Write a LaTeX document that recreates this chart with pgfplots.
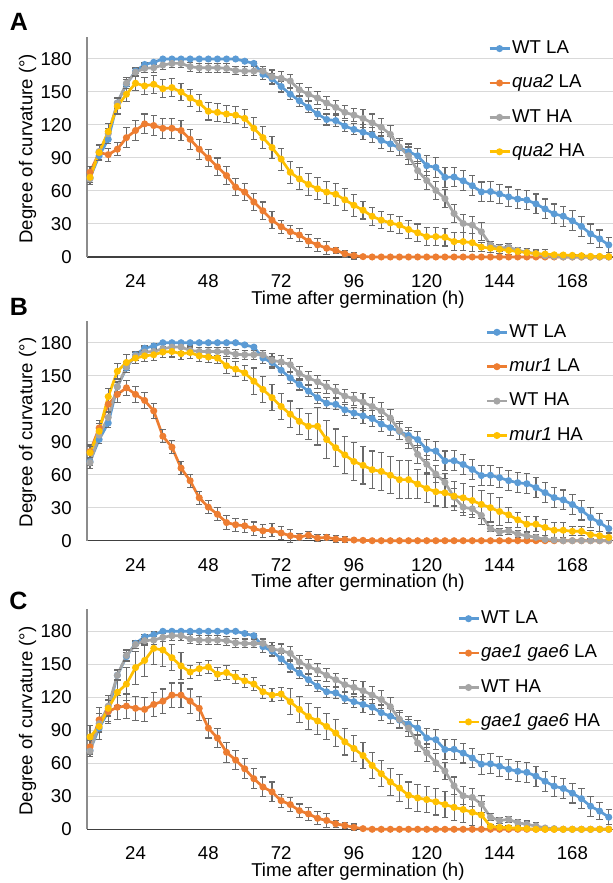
\documentclass[border=0pt]{standalone}
\usepackage{pgfplots}
\pgfplotsset{compat=1.18}
\usepackage{pgfplotstable}
\usepackage{fontspec}
\setmainfont{Liberation Sans}
\definecolor{blueS}{HTML}{5B9BD5}
\definecolor{orangeS}{HTML}{ED7D31}
\definecolor{grayS}{HTML}{A5A5A5}
\definecolor{yellowS}{HTML}{FFC000}
\definecolor{errgray}{HTML}{6A6A6A}
\definecolor{gridc}{HTML}{D9D9D9}

\pgfplotstableread{
t wla ewla wha ewha
9 72 4 71 5
12 92 4 96 5
15 107 4 112 5
18 140 4 140 5
21 157 4 158 5
24 169 2 168 4
27 175 2 171.5 4
30 177 2 172 4
33 180 0.5 174.5 4
36 180 0.5 176 4
39 180 0.5 176 4
42 180 0.5 173 4
45 180 0.5 172 4
48 180 0.5 172 4
51 180 0.5 172 4
54 180 0.5 171.5 4
57 180 0.5 169.5 4
60 178 1.5 169 4
63 176 1.5 169 4
66 166 5 169 4
69 162 5 164 6
72 155 5 162.5 6
75 148 5 160 6
78 142 5 152 6
81 136 5 148 6
84 130 5 144.5 6
87 125 5 140 6
90 124 5 136 6
93 119 5 131.5 6
96 116 5 129 6
99 113.5 7 126 8
102 111 7 122 8
105 106 7 118 8
108 102.8 7 111.5 8
111 99.3 7 100 8
114 95.7 7 92 8
117 92 7 78.5 8
120 83 9 69.5 8
123 81.5 9 60.5 8
126 72.5 9 53 8
129 72.7 9 39.5 8
132 69.3 9 30.5 8
135 64.8 9 29 8
138 59.2 9 23 8
141 59.5 9 11 3
144 57.3 9 8 3
147 54.6 9 9 3
150 52.7 9 6 3
153 51.8 9 4.5 3
156 48.3 9 3 3
159 43.7 9 1.2 1
162 39.2 9 0.6 1
165 37.1 9 0 0
168 32.9 9 0 0
171 27.8 9 0 0
174 21 9 0 0
177 16.5 8 0 0
180 11 7 0 0
}\wt

\pgfplotstableread{
t la ela ha eha
9 77 5 72.5 5
12 95 6 95 7
15 93 6 114 7
18 98 6 137 7
21 108.5 9 148 7
24 115 9 158 7
27 121 9 155.5 8
30 119.5 9 157 8
33 117 9 153 8
36 117 9 154 8
39 115 9 150 8
42 107 9 144.5 8
45 98 9 140 8
48 90 8 132.5 8
51 82 8 131.5 8
54 74 8 130 8
57 63.5 8 129 8
60 59 8 126 8
63 50 8 117 10
66 42 8 108.5 10
69 33.5 8 99.5 10
72 27.5 6 89 10
75 23 6 77 10
78 20 6 71 10
81 14.5 6 66 10
84 11 6 62 10
87 8 6 59 10
90 6 3 57 10
93 3 3 52 10
96 1.2 3 47 10
99 0.3 0 42.5 8
102 0 0 37 8
105 0 0 33.5 8
108 0 0 31 8
111 0 0 29 8
114 0 0 25 8
117 0 0 22 8
120 0 0 18.5 8
123 0 0 18.5 8
126 0 0 18 8
129 0 0 14 8
132 0 0 14 8
135 0 0 13 8
138 0 0 9 4
141 0 0 8 4
144 0 0 7 4
147 0 0 6 4
150 0 0 5 4
153 0 0 4 4
156 0 0 3 4
159 0 0 2.7 4
162 0 0 2 1
165 0 0 1.8 1
168 0 0 1.5 1
171 0 0 1.2 1
174 0 0 0.6 1
177 0 0 0.5 1
180 0 0 0.3 1
}\pa

\pgfplotstableread{
t la ela ha eha
9 81 6 80 6
12 102.5 7 99.5 7
15 124 7 131 7
18 133 7 154 7
21 139 7 162 7
24 133 7 166 5
27 127.5 7 168 5
30 118 7 169 5
33 95 6 171.5 5
36 85 6 172 5
39 66 6 170 5
42 54.5 6 171 5
45 39 6 168 5
48 30.5 6 167 5
51 24 6 166 5
54 16.5 6 159 7
57 14.5 6 156 7
60 13.5 6 152.5 7
63 11 6 145 12
66 9 6 137.5 12
69 9.5 6 130 12
72 7 6 122 12
75 4.5 6 115 12
78 3.3 3 108.5 12
81 5 3 104 12
84 2.4 3 104 17
87 3 3 92 17
90 1.5 3 84.5 17
93 1 3 78 17
96 0.6 0 72 17
99 0.3 0 68.5 17
102 0 0 64.5 17
105 0 0 63 17
108 0 0 59.5 17
111 0 0 55.5 17
114 0 0 55.5 17
117 0 0 51.5 13
120 0 0 47.5 13
123 0 0 44.5 13
126 0 0 43.5 13
129 0 0 40.5 13
132 0 0 39 13
135 0 0 36.5 13
138 0 0 33 13
141 0 0 30 13
144 0 0 26.5 13
147 0 0 23.5 7
150 0 0 19 7
153 0 0 15 7
156 0 0 15 7
159 0 0 12 7
162 0 0 9.5 7
165 0 0 9.5 7
168 0 0 8.5 4
171 0 0 8.5 4
174 0 0 5.5 4
177 0 0 4.5 4
180 0 0 3 4
}\pb

\pgfplotstableread{
t la ela ha eha
9 75 6 84 10
12 99.5 11 93.5 12
15 107 11 110 12
18 111 11 124.5 12
21 112 11 132 15
24 110 11 147 15
27 109 11 153.5 15
30 113.5 11 164.5 15
33 116.5 11 163 15
36 122 11 156 12
39 122 11 148.5 12
42 116.5 11 143 6
45 110 11 146 6
48 92 9 147.5 6
51 83 9 141 6
54 70 9 142.5 6
57 63 9 138.5 6
60 55 9 135 6
63 46 9 132 6
66 38.5 9 125 6
69 34 9 122 6
72 26 6 123 6
75 22.5 6 116 12
78 17 6 109 12
81 14 6 102.5 12
84 10 6 98.5 12
87 8 6 93.5 12
90 5 3 87.5 12
93 3.5 3 79.5 12
96 1.8 3 73.5 12
99 0.6 0 67 12
102 0 0 58 12
105 0 0 50.5 12
108 0 0 43 12
111 0 0 37.5 12
114 0 0 31 12
117 0 0 28.5 12
120 0 0 27 12
123 0 0 25 12
126 0 0 22.5 12
129 0 0 20 12
132 0 0 18 12
135 0 0 15.5 12
138 0 0 13 12
141 0 0 2.7 2
144 0 0 1.8 2
147 0 0 1.5 2
150 0 0 0.9 2
153 0 0 0.6 2
156 0 0 0 0
159 0 0 0 0
162 0 0 0 0
165 0 0 0 0
168 0 0 0 0
171 0 0 0 0
174 0 0 0 0
177 0 0 0 0
180 0 0 0 0
}\pc

\pgfplotsset{
  panel/.style={
    scale only axis, width=263pt, height=110pt, anchor=south west,
    xmin=8, xmax=181.4, ymin=0, ymax=200,
    xtick={24,48,72,96,120,144,168},
    ytick={0,30,60,90,120,150,180},
    major tick length=0pt,
    axis x line*=bottom, axis y line*=left,
    x axis line style={color=black!75, line width=0.6pt, -},
    y axis line style={color=black!45, line width=0.6pt, -},
    ymajorgrids, grid style={gridc, line width=0.5pt},
    clip=false,
    font=\fontsize{9.3}{11}\selectfont,
    /pgf/number format/assume math mode=true,
    xticklabel style={anchor=north, inner sep=0pt, yshift=-8.6pt},
    yticklabel style={anchor=east, inner sep=0pt, xshift=-7.5pt},
    xlabel={Time after germination (h)},
    ylabel={Degree of curvature (°)},
    xlabel style={at={(axis description cs:0.515,0)}, anchor=center, inner sep=0pt, yshift=-21.2pt},
    ylabel style={at={(axis description cs:-0.1131,0.492)}, anchor=center, inner sep=0pt},
    legend cell align=left,
    legend style={draw=none, fill=none, inner sep=0pt, anchor=north west, row sep=7.2pt, yshift=-0.6pt,
      nodes={inner sep=0.6pt, text height=6.8pt, text depth=2pt}},
    legend image code/.code={\draw[mark repeat=2,mark phase=2,#1] plot coordinates {(0pt,0pt) (5pt,0pt) (10pt,0pt)};},
  },
  ser/.style={color=#1, line width=1.35pt, mark=*, mark size=1.05pt, mark options={solid},
    error bars/.cd, y dir=both, y explicit, error mark=|,
    error bar style={line width=0.55pt, color=errgray},
    error mark options={line width=0.55pt, color=errgray, mark size=1.6pt}},
}

\begin{document}
\begin{tikzpicture}
\useasboundingbox (0,0) rectangle (306.5pt,441.5pt);

\begin{axis}[panel, at={(43.5pt,313pt)}, legend style={at={(0.762,1)}}]
\addplot[ser=blueS] table[x=t,y=wla,y error=ewla]{\wt};
\addplot[ser=orangeS] table[x=t,y=la,y error=ela]{\pa};
\addplot[ser=grayS] table[x=t,y=wha,y error=ewha]{\wt};
\addplot[ser=yellowS] table[x=t,y=ha,y error=eha]{\pa};
\legend{WT LA, \textit{qua2} LA, WT HA, \textit{qua2} HA}
\end{axis}

\begin{axis}[panel, at={(43.5pt,171.15pt)}, legend style={at={(0.757,1)}}]
\addplot[ser=blueS] table[x=t,y=wla,y error=ewla]{\wt};
\addplot[ser=orangeS] table[x=t,y=la,y error=ela]{\pb};
\addplot[ser=grayS] table[x=t,y=wha,y error=ewha]{\wt};
\addplot[ser=yellowS] table[x=t,y=ha,y error=eha]{\pb};
\legend{WT LA, \textit{mur1} LA, WT HA, \textit{mur1} HA}
\end{axis}

\begin{axis}[panel, at={(43.5pt,26.85pt)}, legend style={at={(0.703,1.01)}}]
\addplot[ser=blueS] table[x=t,y=wla,y error=ewla]{\wt};
\addplot[ser=orangeS] table[x=t,y=la,y error=ela]{\pc};
\addplot[ser=grayS] table[x=t,y=wha,y error=ewha]{\wt};
\addplot[ser=yellowS] table[x=t,y=ha,y error=eha]{\pc};
\legend{WT LA, \textit{gae1 gae6} LA, WT HA, \textit{gae1 gae6} HA}
\end{axis}

\node[font=\bfseries\fontsize{12.5}{14}\selectfont, inner sep=0pt] at (9.5pt,430.75pt) {A};
\node[font=\bfseries\fontsize{12.5}{14}\selectfont, inner sep=0pt] at (9.5pt,288.25pt) {B};
\node[font=\bfseries\fontsize{12.5}{14}\selectfont, inner sep=0pt] at (9.25pt,141.25pt) {C};
\end{tikzpicture}
\end{document}
